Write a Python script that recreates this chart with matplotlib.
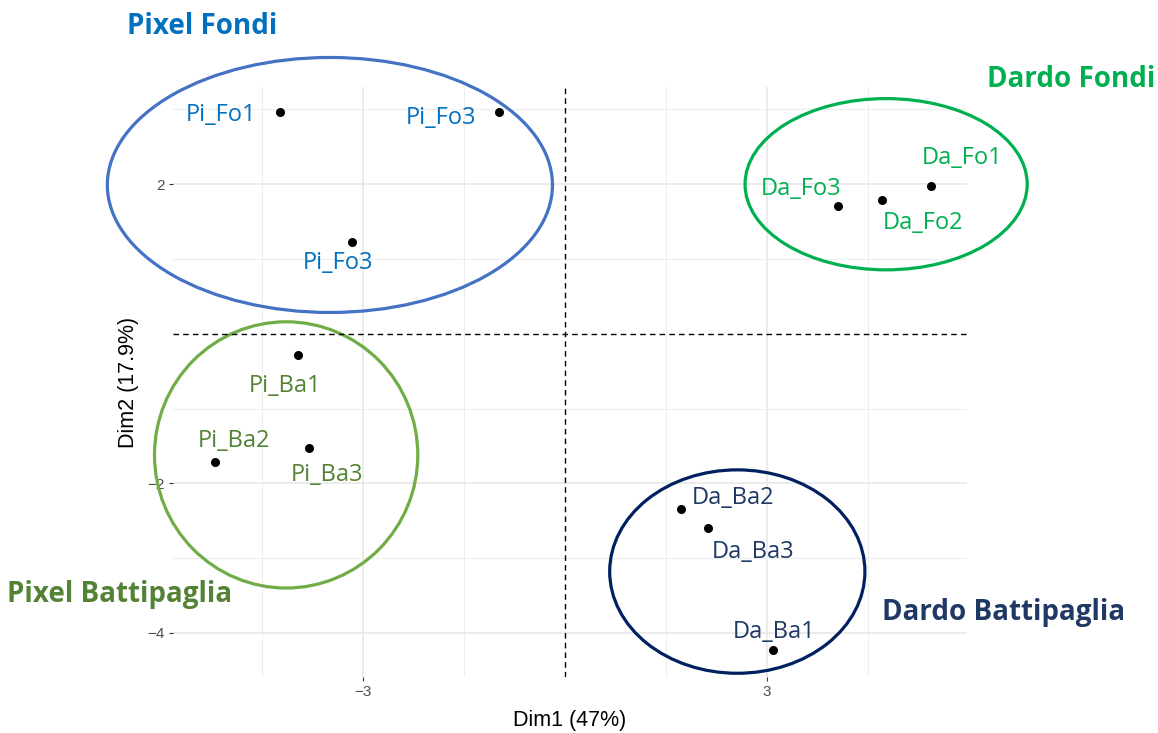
import numpy as np
import matplotlib.pyplot as plt
from matplotlib.patches import Ellipse

# sample coordinates on the first two PCA dimensions
names = ['Pi_Fo1', 'Pi_Fo3', 'Pi_Fo3', 'Pi_Ba1', 'Pi_Ba2', 'Pi_Ba3',
         'Da_Fo1', 'Da_Fo2', 'Da_Fo3', 'Da_Ba1', 'Da_Ba2', 'Da_Ba3']
dim1 = [-4.23, -0.98, -3.16, -3.97, -5.20, -3.80, 5.44, 4.71, 4.06, 3.09, 1.72, 2.12]
dim2 = [2.96, 2.96, 1.23, -0.28, -1.71, -1.53, 1.97, 1.79, 1.71, -4.23, -2.35, -2.60]
group = [0, 0, 0, 1, 1, 1, 2, 2, 2, 3, 3, 3]

# where each sample name is written
label_x = [-5.11, -1.84, -3.37, -4.16, -4.92, -3.54, 5.90, 5.32, 3.51, 3.11, 2.50, 2.79]
label_y = [2.93, 2.89, 0.94, -0.70, -1.43, -1.89, 2.35, 1.48, 1.93, -3.99, -2.19, -2.92]

groups = ['Pixel Fondi', 'Pixel Battipaglia', 'Dardo Fondi', 'Dardo Battipaglia']
ell_cx = [-3.49, -4.14, 4.77, 2.56]
ell_cy = [1.99, -1.62, 2.00, -3.18]
ell_w = [6.61, 3.91, 4.19, 3.79]
ell_h = [3.41, 3.56, 2.29, 2.72]
title_x = [-5.39, -6.61, 7.52, 6.52]
title_y = [4.11, -3.49, 3.40, -3.73]

ell_colors = ['#4472C4', '#70AD47', '#00B050', '#002060']
txt_colors = ['#0070C0', '#548235', '#00B050', '#1F3864']

fig = plt.figure(figsize=(11.58, 7.33), dpi=100)
ax = fig.add_axes([0.1494, 0.0764, 0.6856, 0.8049])

ax.set_xlim(-5.82, 5.97)
ax.set_ylim(-4.59, 3.30)

ax.set_xticks([-3, 3])
ax.set_xticklabels(['\u22123', '3'])
ax.set_yticks([-4, -2, 2])
ax.set_yticklabels(['\u22124', '\u22122', '2'])
ax.set_xticks([-4.5, -1.5, 1.5, 4.5], minor=True)
ax.set_yticks([-3, -1, 1, 3], minor=True)
ax.grid(True, which='major', color='#E8E8E8', linewidth=1.2)
ax.grid(True, which='minor', color='#EEEEEE', linewidth=0.8)
ax.set_axisbelow(True)
for s in ax.spines.values():
    s.set_visible(False)
ax.tick_params(which='major', length=3, color='#333333', labelcolor='#4D4D4D',
               labelsize=11, pad=3)
ax.tick_params(which='minor', length=0)
for lab in ax.get_xticklabels() + ax.get_yticklabels():
    lab.set_family('Liberation Sans')

ax.axhline(0, color='black', linestyle=(0, (4, 3)), linewidth=1)
ax.axvline(0, color='black', linestyle=(0, (4, 3)), linewidth=1)

ax.scatter(dim1, dim2, s=30, color='black', zorder=3)

for i in range(len(names)):
    ax.text(label_x[i], label_y[i], names[i], color=txt_colors[group[i]],
            fontsize=17, family='Open Sans', ha='center', va='center')

for g in range(len(groups)):
    ax.add_patch(Ellipse((ell_cx[g], ell_cy[g]), ell_w[g], ell_h[g], fill=False,
                         edgecolor=ell_colors[g], linewidth=2.3, clip_on=False))
    ax.text(title_x[g], title_y[g], groups[g], color=txt_colors[g], fontsize=20,
            family='Open Sans', fontweight='bold', ha='center', va='center',
            clip_on=False)

ax.set_xlabel('Dim1 (47%)', fontsize=15.5, family='Liberation Sans', labelpad=8)
ax.set_ylabel('Dim2 (17.9%)', fontsize=15.5, family='Liberation Sans', labelpad=6)

fig.savefig('out.png', dpi=100)
